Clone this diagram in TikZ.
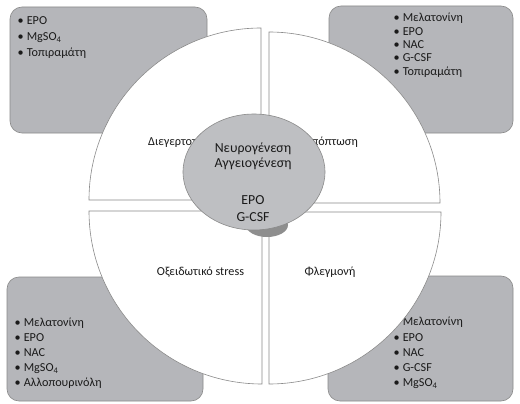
\documentclass[tikz,border=0pt]{standalone}
\usepackage{fontspec}
\setmainfont{Carlito}
\definecolor{boxgray}{HTML}{B5B6BA}
\definecolor{edgegray}{HTML}{8A8A8A}
\definecolor{ellgray}{HTML}{BEBFC2}
\definecolor{shadegray}{HTML}{8E8E8E}
\definecolor{txt}{HTML}{1A1A1A}
\tikzset{
  corner/.style={fill=boxgray, draw=edgegray, line width=0.6pt, rounded corners=12pt},
  quad/.style={fill=white, draw=edgegray, line width=0.6pt},
  item/.style={inner sep=0pt, anchor=base west, text=txt, font=\fontsize{12.2}{13}\selectfont},
  lab/.style={inner sep=0pt, text=txt, font=\fontsize{12.2}{14}\selectfont},
  ctext/.style={inner sep=0pt, anchor=base, text=txt, font=\fontsize{13.8}{15}\selectfont},
}
\begin{document}
\begin{tikzpicture}[x=1pt,y=1pt]
\useasboundingbox[fill=white] (0,0) rectangle (520,-404);
% corner boxes
\draw[corner] (10,-7) rectangle (207,-133);
\draw[corner] (329,-6) rectangle (513,-133);
\draw[corner] (7,-277) rectangle (203,-401);
\draw[corner] (328,-276) rectangle (513,-401);
% lists
\foreach \t [count=\i] in {EPO, MgSO\textsubscript{4}, Τοπιραμάτη}
  \node[item] (tl\i) at (17.5,-24.9-16*\i+16) {•\hspace{3pt}\t};
\foreach \t [count=\i] in {Μελατονίνη, EPO, NAC, G-CSF, Τοπιραμάτη}
  \node[item] (tr\i) at (393.5,-21.9-13.3*\i+13.3) {•\hspace{3pt}\t};
\foreach \t [count=\i] in {Μελατονίνη, EPO, NAC, MgSO\textsubscript{4}, Αλλοπουρινόλη}
  \node[item] (bl\i) at (14.5,-326.9-15*\i+15) {•\hspace{3pt}\t};
\foreach \t [count=\i] in {Μελατονίνη, EPO, NAC, G-CSF, MgSO\textsubscript{4}}
  \node[item] (br\i) at (393.5,-325.9-15.2*\i+15.2) {•\hspace{3pt}\t};
% quadrants
\draw[quad] (261,-200) -- (89,-200) arc[start angle=180, end angle=90, radius=172] -- cycle;
\draw[quad] (269,-203) -- (269,-32) arc[start angle=90, end angle=0, radius=171] -- cycle;
\draw[quad] (262,-211) -- (89,-211) arc[start angle=180, end angle=270, radius=173] -- cycle;
\draw[quad] (269,-212) -- (441,-212) arc[start angle=0, end angle=-90, radius=172] -- cycle;
% quadrant labels
\node[lab, anchor=base west] (q1) at (148,-145.9) {Διεγερτοτοξικότητα};
\node[lab, anchor=base east] (q2) at (358,-145.9) {Απόπτωση};
\node[lab, anchor=base] (q3) at (200.5,-275.9) {Οξειδωτικό stress};
\node[lab, anchor=base] (q4) at (330,-275.9) {Φλεγμονή};
% central ellipse
\fill[shadegray] (267,-225) ellipse[x radius=21, y radius=12];
\draw[fill=ellgray, draw=edgegray, line width=0.6pt] (254,-172) ellipse[x radius=71, y radius=58];
\node[ctext] (c1) at (253,-152.4) {Νευρογένεση};
\node[ctext] (c2) at (253,-167.4) {Αγγειογένεση};
\node[ctext] (c3) at (253,-204.4) {EPO};
\node[ctext] (c4) at (253,-221.4) {G-CSF};
\end{tikzpicture}
\end{document}
